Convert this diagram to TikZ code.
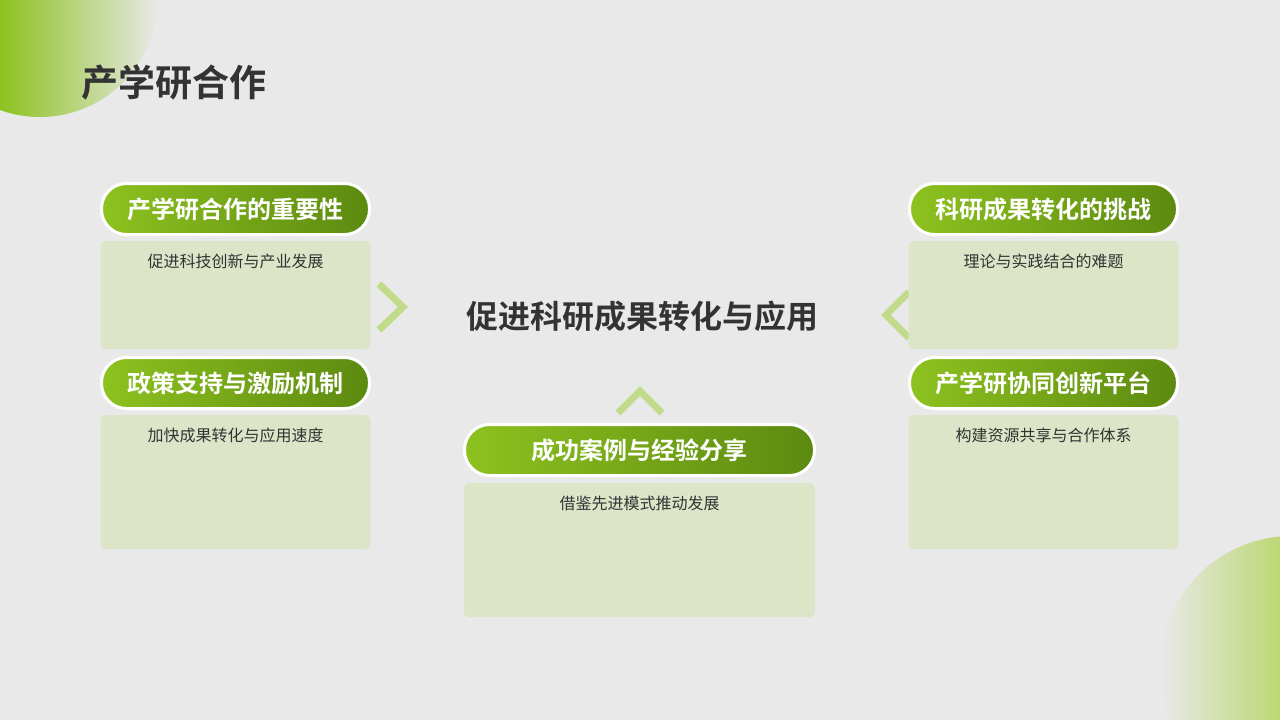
\documentclass[tikz,border=0pt]{standalone}
\usepackage{fontspec}
\setmainfont{Noto Sans CJK SC}[BoldFont={Noto Sans CJK SC Bold}]
\usepackage{tikz}
\usetikzlibrary{shapes,shadings,positioning,calc}
\definecolor{bg}{HTML}{E9E9E9}
\definecolor{ink}{HTML}{333333}
\definecolor{pillA}{HTML}{8DC21F}
\definecolor{pillB}{HTML}{5C8A10}
\definecolor{boxgreen}{HTML}{DCE5C8}
\definecolor{chev}{HTML}{C0DB8A}
\definecolor{blobA}{HTML}{8CC21E}
\definecolor{blobB}{HTML}{BCD873}
\tikzset{
head/.style = {draw=white, line width=3pt, rounded corners=25pt, minimum width=268pt, minimum height=51pt,
  left color=pillA, right color=pillB, text=white, inner sep=0pt,
  font=\bfseries\fontsize{24}{27}\selectfont},
box/.style = {fill=boxgreen, rounded corners=5pt, minimum width=270pt, minimum height=108pt, inner sep=0pt},
note/.style = {anchor=north, inner sep=0pt, yshift=-13pt, text=ink, font=\fontsize{16}{18}\selectfont},
chevron/.style = {draw=chev, line width=7pt, miter limit=10}
}
\begin{document}
\begin{tikzpicture}[x=1pt, y=-1pt, node distance=5pt]
    \useasboundingbox (0,0) rectangle (1280,720);
    \fill[bg] (0,0) rectangle (1280,720);

    % corner blobs
    \begin{scope}
        \clip (40,0) circle (117);
        \shade[left color=blobA, middle color=blobA!55!bg, right color=bg] (0,0) rectangle (160,120);
    \end{scope}
    \begin{scope}
        \clip (1292,668) circle (132);
        \shade[left color=bg, right color=blobB] (1160,536) rectangle (1280,720);
    \end{scope}

    \node [anchor=west, text=ink, font=\bfseries\fontsize{37}{40}\selectfont] (title) at (78,82) {产学研合作};

    % chevrons (behind the cards)
    \coordinate (cr1) at (379,284);
    \coordinate (cr2) at (403,307);
    \coordinate (cr3) at (379,330);
    \draw [chevron] (cr1) -- (cr2) -- (cr3);
    \coordinate (cl1) at (909,292);
    \coordinate (cl2) at (886,315);
    \coordinate (cl3) at (909,338);
    \draw [chevron] (cl1) -- (cl2) -- (cl3);
    \coordinate (cu1) at (618,413);
    \coordinate (cu2) at (640,391);
    \coordinate (cu3) at (662,413);
    \draw [chevron] (cu1) -- (cu2) -- (cu3);

    % left column
    \node [head] (importance) at (235.5,209) {产学研合作的重要性};
    \node [box, below=5pt of importance,
           label={[note]north:促进科技创新与产业发展}] (importancebox) {};
    \node [head] (policy) at (235.5,383) {政策支持与激励机制};
    \node [box, below=5pt of policy, minimum height=134pt,
           label={[note]north:加快成果转化与应用速度}] (policybox) {};

    % right column
    \node [head] (challenge) at (1043.5,209) {科研成果转化的挑战};
    \node [box, below=5pt of challenge,
           label={[note]north:理论与实践结合的难题}] (challengebox) {};
    \node [head] (platform) at (1043.5,383) {产学研协同创新平台};
    \node [box, below=5pt of platform, minimum height=134pt,
           label={[note]north:构建资源共享与合作体系}] (platformbox) {};

    % centre
    \node [text=ink, font=\bfseries\fontsize{32}{36}\selectfont] (goal) at (642,316) {促进科研成果转化与应用};
    \node [head, minimum width=350pt] (cases) at (639.5,450) {成功案例与经验分享};
    \node [box, below=6pt of cases, minimum width=351pt, minimum height=134pt,
           label={[note]north:借鉴先进模式推动发展}] (casesbox) {};
\end{tikzpicture}
\end{document}
